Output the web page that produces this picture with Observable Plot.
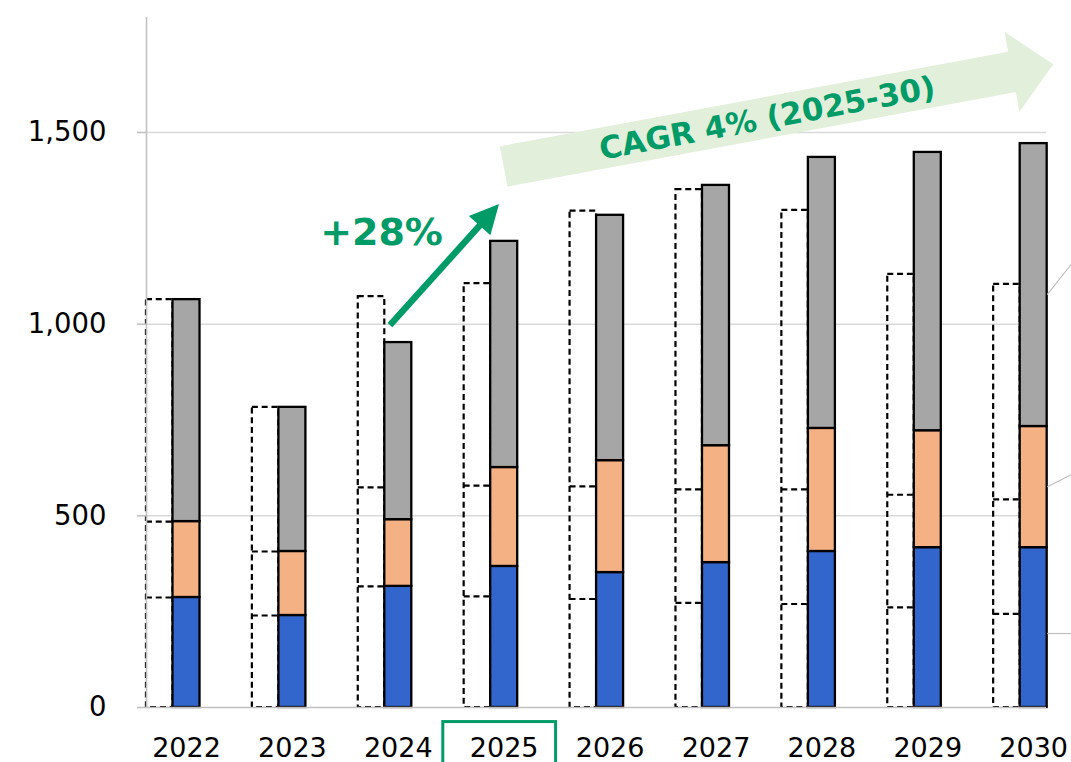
<!DOCTYPE html>
<html>
<head>
<meta charset="utf-8">
<script src="https://cdn.jsdelivr.net/npm/d3@7"></script>
<script src="https://cdn.jsdelivr.net/npm/@observablehq/plot@0.6"></script>
<style>
  html, body { margin: 0; padding: 0; background: #fff; }
  #chart { width: 1071px; height: 762px; overflow: hidden; position: relative; }
  #chart svg { display: block; }
</style>
</head>
<body>
<div id="chart"></div>
<script>
// ---------- data ----------
const years = [2022, 2023, 2024, 2025, 2026, 2027, 2028, 2029, 2030];
const segments = ["Lower", "Middle", "Upper"];
const segmentColors = ["#3366cc", "#f4b183", "#a6a6a6"];

// current outlook (solid bars)
const actualLower  = [287, 240, 316, 368, 352, 378, 407, 417, 417];
const actualMiddle = [198, 167, 174, 258, 292, 305, 321, 305, 316];
const actualUpper  = [579, 376, 462, 590, 640, 679, 707, 726, 738];

// previous outlook (dashed outline bars)
const prevLower  = [287, 240, 316, 290, 283, 273, 270, 261, 244];
const prevMiddle = [198, 167, 258, 289, 294, 296, 299, 294, 299];
const prevUpper  = [579, 376, 498, 527, 718, 782, 728, 575, 561];

const yTicks = [0, 500, 1000, 1500];
const yGridTicks = [500, 1000, 1500];
const yDomain = [0, 1800];
const xDomain = [2021.6223, 2030.121];

const growthLabel = "+28%";
const cagrLabel = "CAGR 4% (2025-30)";
const highlightYear = 2025;
const cagrFrom = [2025.0, 1410];
const cagrTo = [2030.19, 1677];
const growthFrom = [2023.926, 996];
const growthTo = [2024.956, 1312];
const growthTextAt = [2023.262, 1239];
const leaderFrom = [1077, 576, 193];
const leaderTo = [1158, 608, 193];

// ---------- build tables ----------
function stackRows(lower, middle, upper) {
  const rows = [];
  years.forEach((year, i) => {
    let base = 0;
    [lower[i], middle[i], upper[i]].forEach((v, k) => {
      rows.push({ year, segment: segments[k], y1: base, y2: base + v });
      base += v;
    });
  });
  return rows;
}
const actualRows = stackRows(actualLower, actualMiddle, actualUpper);
const prevTotals = years.map((year, i) => ({ year, total: prevLower[i] + prevMiddle[i] + prevUpper[i] }));
const prevBounds = years.flatMap((year, i) => [
  { year, y: prevLower[i] },
  { year, y: prevLower[i] + prevMiddle[i] }
]);
const leaderRows = leaderFrom.map((v, i) => ({ from: v, to: leaderTo[i] }));

const green = "#009b67";
const font = "'DejaVu Sans', Verdana, sans-serif";
const dash = "6,3.8";

const plot = Plot.plot({
  width: 1071,
  height: 762,
  marginTop: 17,
  marginBottom: 55,
  marginLeft: 146,
  marginRight: 25,
  style: { fontFamily: font, fontSize: "27px", background: "white", color: "black", overflow: "hidden" },
  x: { type: "linear", domain: xDomain },
  y: { domain: yDomain },
  color: { domain: segments, range: segmentColors },
  marks: [
    Plot.gridY(yGridTicks, { stroke: "#d9d9d9", strokeOpacity: 1, strokeWidth: 1.5 }),
    Plot.rect(prevTotals, {
      x1: d => d.year - 0.378, x2: d => d.year - 0.1275, y1: 0, y2: "total",
      fill: "none", stroke: "black", strokeWidth: 2.2, strokeDasharray: dash
    }),
    Plot.ruleY(prevBounds, {
      x1: d => d.year - 0.378, x2: d => d.year - 0.1275, y: "y",
      stroke: "black", strokeWidth: 2.2, strokeDasharray: dash
    }),
    Plot.rect(actualRows, {
      x1: d => d.year - 0.1275, x2: d => d.year + 0.1275, y1: "y1", y2: "y2",
      fill: "segment", stroke: "black", strokeWidth: 2.3
    }),
    Plot.link(leaderRows, {
      x1: () => years[years.length - 1] + 0.1275, x2: () => years[years.length - 1] + 0.36,
      y1: "from", y2: "to", stroke: "#bfbfbf", strokeWidth: 1.2
    }),
    Plot.ruleX([xDomain[0]], { stroke: "#bfbfbf", strokeWidth: 1.5 }),
    Plot.ruleY([0], { stroke: "#bfbfbf", strokeWidth: 1.5 }),
    Plot.axisY(yTicks, {
      tickFormat: d3.format(","), tickSize: 9, tickPadding: 31,
      stroke: "#bfbfbf", strokeWidth: 1.5, fill: "black", fontSize: 27.5, label: null
    }),
    Plot.axisX(years, {
      tickFormat: d => String(d), tickSize: 0, tickPadding: 30,
      fill: "black", fontSize: 27, label: null
    }),
    Plot.rect([highlightYear], {
      x1: d => d - 0.575, x2: d => d + 0.49, y1: -38, y2: -150,
      fill: "none", stroke: green, strokeWidth: 3
    }),
    Plot.text([growthLabel], {
      x: growthTextAt[0], y: growthTextAt[1], text: d => d, textAnchor: "start",
      fill: green, fontSize: 38, fontWeight: "bold", fontFamily: font
    })
  ]
});

document.getElementById("chart").appendChild(plot);

// ---------- annotation shapes drawn through the plot's scales ----------
const svgNode = plot.tagName.toLowerCase() === "svg" ? plot : plot.querySelector("svg");
const svg = d3.select(svgNode);
const sx = plot.scale("x"), sy = plot.scale("y");
const P = ([a, b]) => [sx.apply(a), sy.apply(b)];

// CAGR banner arrow
(function () {
  const t0 = P(cagrFrom), t1 = P(cagrTo);
  const dx = t1[0] - t0[0], dy = t1[1] - t0[1], L = Math.hypot(dx, dy);
  const ux = dx / L, uy = dy / L, nx = uy, ny = -ux;
  const pt = (s, h) => [t0[0] + ux * s + nx * h, t0[1] + uy * s + ny * h];
  const shaft = 20.5, head = 40.7, headLen = 42;
  const poly = [pt(0, shaft), pt(L - headLen, shaft), pt(L - headLen, head), pt(L, 0),
                pt(L - headLen, -head), pt(L - headLen, -shaft), pt(0, -shaft)];
  const g = svg.append("g");
  g.append("polygon").attr("points", poly.map(p => p.join(",")).join(" ")).attr("fill", "#e2efda");
  const c = pt(0.479 * L, 0);
  const ang = Math.atan2(dy, dx) * 180 / Math.PI;
  g.append("text")
    .attr("transform", `translate(${c[0]},${c[1]}) rotate(${ang})`)
    .attr("text-anchor", "middle").attr("dy", "0.36em")
    .attr("fill", green).attr("font-family", font).attr("font-weight", "bold").attr("font-size", 31)
    .text(cagrLabel);
})();

// +28% growth arrow
(function () {
  const a = P(growthFrom), b = P(growthTo);
  const dx = b[0] - a[0], dy = b[1] - a[1], L = Math.hypot(dx, dy);
  const ux = dx / L, uy = dy / L, nx = uy, ny = -ux;
  const headLen = 29, headHalf = 14.5;
  const base = [b[0] - ux * headLen, b[1] - uy * headLen];
  const g = svg.append("g");
  g.append("line").attr("x1", a[0]).attr("y1", a[1]).attr("x2", base[0] + ux * 2).attr("y2", base[1] + uy * 2)
    .attr("stroke", green).attr("stroke-width", 6.5);
  const tri = [b, [base[0] + nx * headHalf, base[1] + ny * headHalf], [base[0] - nx * headHalf, base[1] - ny * headHalf]];
  g.append("polygon").attr("points", tri.map(p => p.join(",")).join(" ")).attr("fill", green);
})();
</script>
</body>
</html>
